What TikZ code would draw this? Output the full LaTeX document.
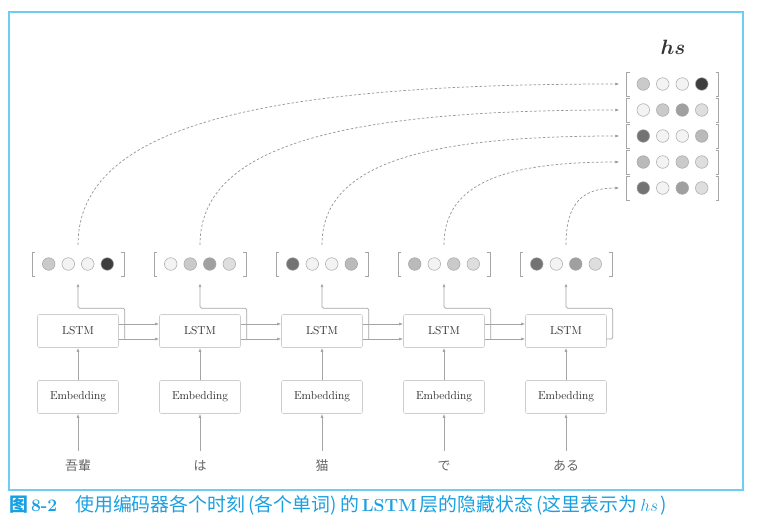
\documentclass[tikz,border=0pt]{standalone}
\usepackage{amsmath}
\usepackage{fontspec}
\usepackage{xcolor}
\usepackage{tikz}
\usetikzlibrary{arrows.meta,positioning,calc}

\newfontfamily\jpfont{Noto Sans CJK JP}
\newfontfamily\scfont{Noto Sans CJK SC}[Scale=1.08]

\definecolor{framecol}{RGB}{110,205,245}
\definecolor{capcol}{RGB}{25,160,225}
\definecolor{linecol}{RGB}{165,165,165}
\definecolor{boxcol}{RGB}{205,205,205}
\definecolor{hc0}{RGB}{243,243,243}
\definecolor{hc1}{RGB}{222,222,222}
\definecolor{hc2}{RGB}{202,202,202}
\definecolor{hc3}{RGB}{186,186,186}
\definecolor{hc4}{RGB}{160,160,160}
\definecolor{hc5}{RGB}{115,115,115}
\definecolor{hc6}{RGB}{62,62,62}

% one hidden vector: four shaded cells in brackets
\newcommand{\cells}[5]{%
  \foreach \k/\s in {1/#2,2/#3,3/#4,4/#5}
    \filldraw[cell, fill=hc\s] ($(#1)+({-48.75+19.5*\k},0)$) circle[radius=6.3pt];
  \draw[brk] ($(#1)+(-43,-12)$) -- ++(-3,0) -- ++(0,24) -- ++(3,0);
  \draw[brk] ($(#1)+(43,-12)$) -- ++(3,0) -- ++(0,24) -- ++(-3,0);
}

\begin{document}
\begin{tikzpicture}[x=1pt, y=-1pt,
  box/.style={draw=boxcol, rounded corners=2pt, line width=0.6pt, minimum width=81pt, minimum height=33pt, font=\fontsize{11.5}{13}\selectfont, text=black!85},
  conn/.style={draw=linecol, line width=0.7pt, -{Latex[length=4pt,width=3pt]}},
  dashconn/.style={conn, draw=black!40, line width=0.75pt, dash pattern=on 2.5pt off 2pt},
  vecbox/.style={minimum width=92pt, minimum height=38pt, inner sep=0pt},
  rowbox/.style={minimum width=106pt, minimum height=26pt, inner sep=0pt},
  word/.style={font=\jpfont\fontsize{13}{15}\selectfont, text=black!60, minimum height=30pt},
  cell/.style={draw=black!35, line width=0.5pt},
  brk/.style={draw=black!35, line width=0.8pt}]

\useasboundingbox (0,0) rectangle (760,522);

% frame
\draw[framecol, line width=1.5pt] (9,12) rectangle (743,490);

% time steps: word, Embedding, LSTM, hidden vector
\foreach \i/\w/\ka/\kb/\kc/\kd [evaluate=\i as \x using {78+122*(\i-1)}] in
  {1/吾輩/2/0/0/6, 2/は/0/2/4/1, 3/猫/5/0/0/3, 4/で/3/0/2/1, 5/ある/5/0/4/1} {
  \node[word] (w\i) at (\x,466) {\w};
  \node[box] (e\i) at (\x,397) {Embedding};
  \node[box] (l\i) at (\x,331) {LSTM};
  \node[vecbox] (v\i) at (\x,264) {};
  \cells{v\i}{\ka}{\kb}{\kc}{\kd}
  \draw[conn] (w\i.north) -- (e\i.south);
  \draw[conn] (e\i.north) -- (l\i.south);
}

% hs matrix
\node[font=\fontsize{22}{24}\selectfont, text=black!80] (hslabel) at (673,47) {$\boldsymbol{hs}$};
\foreach \i/\ka/\kb/\kc/\kd in {1/2/0/0/6, 2/0/2/4/1, 3/5/0/0/3, 4/3/0/2/1, 5/5/0/4/1} {
  \node[rowbox] (r\i) at (672.5,{84+26*(\i-1)}) {};
  \cells{r\i}{\ka}{\kb}{\kc}{\kd}
}

% recurrent connections and outputs
\foreach \i [evaluate=\i as \j using int(\i+1)] in {1,...,4} {
  \draw[conn] ($(l\i.east)+(0,-7)$) -- ($(l\j.west)+(0,-7)$);
  \draw[conn] ($(l\i.east)+(0,8)$) -- ($(l\j.west)+(0,8)$);
  \draw[conn, rounded corners=1.5pt] ($(l\i.east)+(6,8)$) |- ($(l\i.north)+(0,-6)$) -- (v\i.south);
}
\draw[conn, rounded corners=1.5pt] ($(l5.east)+(0,8)$) -- ++(6,0) |- ($(l5.north)+(0,-6)$) -- (v5.south);

% hidden states collected into hs
\foreach \i/\ca/\cb in {1/121/352, 2/101/272, 3/82/193, 4/62/114, 5/43/36}
  \draw[dashconn] (v\i.north) .. controls +(0,-\ca) and +(-\cb,0) .. (r\i.west);

% caption
\node[anchor=west, inner sep=0pt, text=capcol, font=\fontsize{17.5}{20}\selectfont] (caption) at (9,505)
  {{\scfont\bfseries 图}\,\textbf{8-2}\hspace{18pt}{\scfont 使用编码器各个时刻\,(各个单词)\,的}\,\textbf{LSTM}\,{\scfont 层的隐藏状态\,(这里表示为}\,$hs$\,{\scfont )}};

\end{tikzpicture}
\end{document}
